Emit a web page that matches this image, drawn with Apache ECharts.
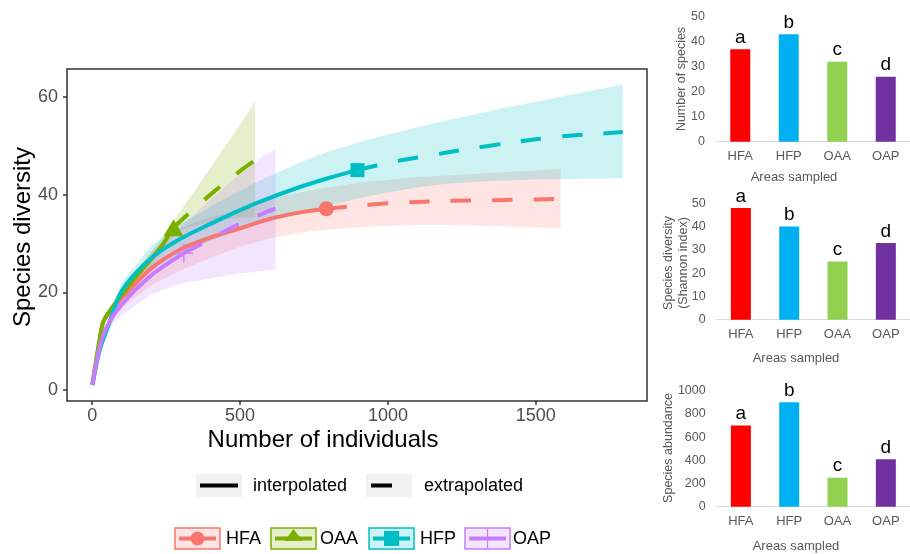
<!DOCTYPE html>
<html><head><meta charset="utf-8">
<script src="https://cdn.jsdelivr.net/npm/echarts@6/dist/echarts.min.js"></script>
<style>html,body{margin:0;padding:0;background:#fff}#c{width:910px;height:554px}</style>
</head><body><div id="c"></div>
<script>
// ---------- Rarefaction / extrapolation data ----------
const groupNames = ['HFA', 'OAA', 'HFP', 'OAP'];
const groupColors = ['#F8766D', '#7CAE00', '#00BFC4', '#C77CFF'];
const ribbonColors = ['rgba(248,118,109,0.2)', 'rgba(124,174,0,0.2)', 'rgba(0,191,196,0.2)', 'rgba(199,124,255,0.2)'];

// HFA
const hfaN  = [1, 25, 40, 100, 200, 300, 400, 500, 600, 700, 792, 900, 1000, 1100, 1200, 1400, 1584];
const hfaS  = [1.2, 10, 14.3, 18.8, 24.9, 28.8, 31.2, 33.1, 35.0, 36.3, 37.1, 37.7, 38.2, 38.5, 38.7, 38.9, 39.1];
const hfaLo = [1.2, 9.5, 13.5, 16.8, 21.5, 24.5, 27.0, 29.3, 31.0, 32.2, 32.8, 33.3, 33.6, 33.8, 33.8, 33.5, 33.1];
const hfaHi = [1.2, 10.5, 15.1, 20.8, 28.3, 33.1, 35.4, 36.9, 39.0, 40.4, 41.4, 42.4, 43.0, 43.6, 43.9, 44.6, 45.2];
const hfaObs = 792;

// OAA
const oaaN  = [1, 25, 40, 100, 150, 200, 240, 275, 310, 406, 513, 551];
const oaaS  = [1.2, 10.2, 14.3, 19.5, 23.3, 26.8, 29.9, 33.2, 35.2, 40.3, 45.4, 47.0];
const oaaLo = [1.2, 9.7, 13.6, 18.2, 22.0, 25.4, 28.4, 31.6, 32.9, 34.6, 35.3, 35.4];
const oaaHi = [1.2, 10.7, 15.0, 20.8, 24.6, 28.2, 31.5, 34.6, 37.6, 46.0, 55.5, 59.0];
const oaaObs = 275;

// HFP
const hfpN  = [1, 25, 55, 100, 200, 300, 400, 456, 500, 570, 700, 800, 897, 1000, 1100, 1200, 1300, 1400, 1500, 1600, 1700, 1794];
const hfpS  = [1.0, 8.0, 13.2, 20.3, 27.0, 31.0, 34.0, 35.6, 36.8, 38.6, 41.5, 43.4, 45.0, 46.5, 47.6, 48.6, 49.6, 50.5, 51.3, 52.0, 52.4, 52.8];
const hfpLo = [1.0, 7.5, 12.5, 18.5, 24.5, 28.0, 30.5, 31.8, 32.8, 34.2, 36.3, 37.8, 39.2, 40.4, 41.5, 42.2, 42.6, 42.9, 43.1, 43.2, 43.3, 43.4];
const hfpHi = [1.0, 8.5, 14.0, 22.0, 29.5, 34.0, 37.5, 39.4, 40.8, 43.0, 46.5, 48.8, 50.6, 52.3, 53.8, 55.2, 56.5, 57.8, 59.0, 60.2, 61.4, 62.5];
const hfpObs = 897;

// OAP
const oapN  = [1, 25, 50, 100, 200, 310, 355, 468, 592, 620];
const oapS  = [1.0, 8.6, 13.0, 17.5, 23.5, 28.0, 29.4, 33.1, 36.5, 37.1];
const oapLo = [1.0, 8.0, 12.3, 15.3, 19.6, 22.0, 22.3, 23.6, 24.5, 24.6];
const oapHi = [1.0, 9.2, 13.7, 19.7, 27.4, 34.0, 36.5, 42.6, 48.5, 49.2];
const oapObs = 310;

const xTicks = [0, 500, 1000, 1500];
const yTicks = [0, 20, 40, 60];

// ---------- Bar chart data ----------
const barCats = ['HFA', 'HFP', 'OAA', 'OAP'];
const barColors = ['#FF0000', '#00B0F0', '#92D050', '#7030A0'];
const barLetters = ['a', 'b', 'c', 'd'];
const speciesCount = [37, 43, 32, 26];
const shannonIndex = [48, 40, 25, 33];
const abundance = [700, 900, 250, 410];

// ---------- Build ----------
const FONT = '"Liberation Sans", Arial, sans-serif';
const groups = [
  {N: hfaN, S: hfaS, Lo: hfaLo, Hi: hfaHi, obs: hfaObs, symbol: 'circle', size: 15},
  {N: oaaN, S: oaaS, Lo: oaaLo, Hi: oaaHi, obs: oaaObs, symbol: 'triangle', size: [20, 17]},
  {N: hfpN, S: hfpS, Lo: hfpLo, Hi: hfpHi, obs: hfpObs, symbol: 'rect', size: 14},
  {N: oapN, S: oapS, Lo: oapLo, Hi: oapHi, obs: oapObs,
   symbol: 'path://M9.35,0H10.65V9.35H20V10.65H10.65V20H9.35V10.65H0V9.35H9.35Z', size: 19}
];

const series = [];
groups.forEach((g, gi) => {
  series.push({
    type: 'custom', xAxisIndex: 0, yAxisIndex: 0, z: 1, silent: true,
    data: [[g.N[0], g.S[0]]],
    renderItem: function (params, api) {
      const pts = [];
      for (let i = 0; i < g.N.length; i++) pts.push(api.coord([g.N[i], g.Hi[i]]));
      for (let i = g.N.length - 1; i >= 0; i--) pts.push(api.coord([g.N[i], g.Lo[i]]));
      return {type: 'polygon', shape: {points: pts}, style: {fill: ribbonColors[gi], stroke: null}};
    }
  });
});
groups.forEach((g, gi) => {
  const interp = [], extra = [];
  g.N.forEach((n, i) => {
    if (n <= g.obs) interp.push([n, g.S[i]]);
    if (n >= g.obs) extra.push([n, g.S[i]]);
  });
  series.push({
    type: 'line', xAxisIndex: 0, yAxisIndex: 0, z: 2, data: interp, symbol: 'none',
    smooth: 0.3,
    lineStyle: {color: groupColors[gi], width: 4, type: 'solid', cap: 'butt', join: 'round'}
  });
  series.push({
    type: 'line', xAxisIndex: 0, yAxisIndex: 0, z: 2, data: extra, symbol: 'none',
    smooth: 0.3,
    lineStyle: {color: groupColors[gi], width: 4, type: [20.5, 21], cap: 'butt'}
  });
});
groups.forEach((g, gi) => {
  const idx = g.N.indexOf(g.obs);
  series.push({
    type: 'scatter', xAxisIndex: 0, yAxisIndex: 0, z: 3, data: [[g.obs, g.S[idx]]],
    symbol: g.symbol, symbolSize: g.size, itemStyle: {color: groupColors[gi], opacity: 1}
  });
});

const barValues = [speciesCount, shannonIndex, abundance];
barValues.forEach((vals, k) => {
  series.push({
    type: 'bar', xAxisIndex: k + 1, yAxisIndex: k + 1, barWidth: 20,
    data: vals.map((v, i) => ({value: v, itemStyle: {color: barColors[i]}})),
    label: {show: true, position: 'top', distance: 2, fontSize: 19, color: '#000', fontFamily: FONT,
      formatter: p => barLetters[p.dataIndex]}
  });
});

// ---------- graphics ----------
const graphic = [];
function txt(x, y, text, size, color, rot, align) {
  graphic.push({type: 'text', x: x, y: y, rotation: rot || 0, silent: true,
    style: {text: text, fontSize: size, fontFamily: FONT, fill: color,
      align: align || 'center', verticalAlign: 'middle', textAlign: align || 'center', textVerticalAlign: 'middle', lineHeight: size + 2}});
}
txt(23, 237, 'Species diversity', 24, '#000', Math.PI / 2);
txt(323, 440, 'Number of individuals', 24, '#000');

// line type legend
graphic.push({type: 'rect', shape: {x: 196, y: 474, width: 46, height: 23}, style: {fill: '#F2F2F2'}});
graphic.push({type: 'line', shape: {x1: 200, y1: 485.5, x2: 238, y2: 485.5}, style: {stroke: '#000', lineWidth: 4}});
txt(253, 486, 'interpolated', 18, '#000', 0, 'left');
graphic.push({type: 'rect', shape: {x: 366, y: 474, width: 46, height: 23}, style: {fill: '#F2F2F2'}});
graphic.push({type: 'line', shape: {x1: 371, y1: 485.5, x2: 392, y2: 485.5}, style: {stroke: '#000', lineWidth: 4}});
txt(424, 486, 'extrapolated', 18, '#000', 0, 'left');

// colour legend
const keyX = [175, 271, 369, 465];
const textX = [226, 320, 420, 513];
keyX.forEach((x, i) => {
  const cx = x + 22.5, cy = 538.5;
  graphic.push({type: 'rect', shape: {x: x, y: 528, width: 45, height: 21},
    style: {fill: ribbonColors[i], stroke: groupColors[i], lineWidth: 1.5}});
  graphic.push({type: 'line', shape: {x1: x + 4, y1: cy, x2: x + 41, y2: cy},
    style: {stroke: groupColors[i], lineWidth: 4}});
  if (i === 0) graphic.push({type: 'circle', shape: {cx: cx, cy: cy, r: 7}, style: {fill: groupColors[i]}});
  if (i === 1) graphic.push({type: 'polygon', shape: {points: [[cx - 9, cy + 2.5], [cx + 9, cy + 2.5], [cx, cy - 9.5]]}, style: {fill: groupColors[i]}});
  if (i === 2) graphic.push({type: 'rect', shape: {x: cx - 7.5, y: cy - 7.5, width: 15, height: 15}, style: {fill: groupColors[i]}});
  if (i === 3) graphic.push({type: 'line', shape: {x1: cx, y1: 528.5, x2: cx, y2: 548.5}, style: {stroke: groupColors[i], lineWidth: 1.2}});
  txt(textX[i], 539, groupNames[i], 18, '#000', 0, 'left');
});

// bar chart titles
const GR = '#595959';
txt(682, 79, 'Number of species', 12.5, GR, Math.PI / 2);
txt(676, 263, 'Species diversity\n(Shannon index)', 12.5, GR, Math.PI / 2);
txt(669, 448, 'Species abundance', 12.5, GR, Math.PI / 2);
txt(794, 177, 'Areas sampled', 13, GR);
txt(796, 358, 'Areas sampled', 13, GR);
txt(796, 546, 'Areas sampled', 13, GR);

// ---------- axes ----------
const barGrids = [
  {left: 716, top: 16.7, width: 205, height: 125},
  {left: 716.7, top: 203.3, width: 196, height: 116.4},
  {left: 716.7, top: 390.7, width: 196, height: 116}
];
const barMax = [50, 50, 1000];
const barInt = [10, 10, 200];
const plain = v => String(v);

const xAxes = [{
  type: 'value', gridIndex: 0, min: -85, max: 1876,
  splitLine: {show: false}, axisLine: {show: false, onZero: false},
  axisTick: {show: true, customValues: xTicks, length: 4, lineStyle: {color: '#333', width: 1.5}},
  axisLabel: {customValues: xTicks, formatter: plain, fontSize: 18, color: '#4D4D4D', margin: 6, fontFamily: FONT}
}];
const yAxes = [{
  type: 'value', gridIndex: 0, min: -2.25, max: 65.7,
  splitLine: {show: false}, axisLine: {show: false, onZero: false},
  axisTick: {show: true, customValues: yTicks, length: 4, lineStyle: {color: '#333', width: 1.5}},
  axisLabel: {customValues: yTicks, formatter: plain, fontSize: 18, color: '#4D4D4D', margin: 9, fontFamily: FONT}
}];
barGrids.forEach((g, k) => {
  xAxes.push({type: 'category', gridIndex: k + 1, data: barCats,
    axisLine: {show: true, onZero: false, lineStyle: {color: '#D9D9D9', width: 1}},
    axisTick: {show: false},
    axisLabel: {fontSize: 13, color: GR, margin: 8, fontFamily: FONT}});
  yAxes.push({type: 'value', gridIndex: k + 1, min: 0, max: barMax[k], interval: barInt[k],
    splitLine: {show: false}, axisLine: {show: false}, axisTick: {show: false},
    axisLabel: {formatter: plain, fontSize: 12.5, color: GR, margin: 11, fontFamily: FONT}});
});

const chart = echarts.init(document.getElementById('c'), null, {renderer: 'canvas'});
chart.setOption({
  animation: false,
  backgroundColor: '#fff',
  textStyle: {fontFamily: FONT},
  grid: [{left: 67, top: 69, width: 580, height: 332, show: true, borderColor: '#333', borderWidth: 1.5, backgroundColor: 'transparent', containLabel: false}]
    .concat(barGrids.map(g => Object.assign({containLabel: false}, g))),
  xAxis: xAxes,
  yAxis: yAxes,
  series: series,
  graphic: graphic
});
</script></body></html>
